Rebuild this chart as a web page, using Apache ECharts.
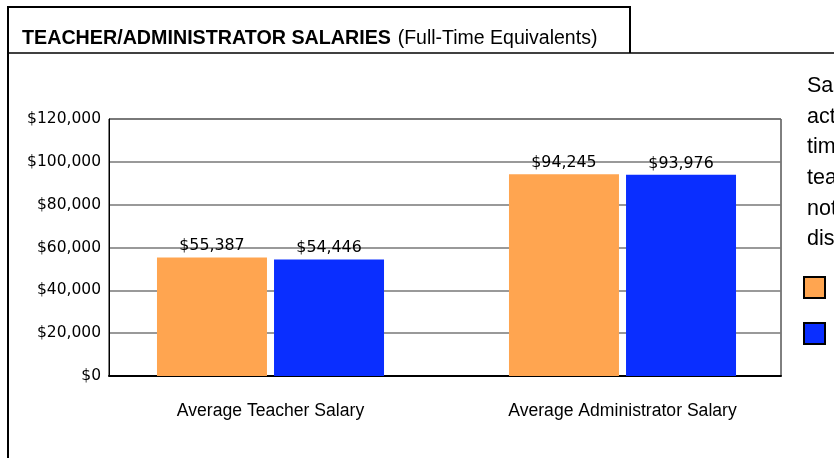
<!DOCTYPE html>
<html><head><meta charset="utf-8">
<script src="https://cdn.jsdelivr.net/npm/echarts@6/dist/echarts.min.js"></script>
<style>html,body{margin:0;padding:0;background:#fff;overflow:hidden}#c{width:834px;height:458px}</style>
</head><body><div id="c"></div>
<script>
const categories = ['Average Teacher Salary', 'Average Administrator Salary'];
const seriesNames = ['District', 'State'];
const districtValues = [55387, 94245];
const stateValues = [54446, 93976];
const yTicks = [0, 20000, 40000, 60000, 80000, 100000, 120000];
const noteLines = ['Salaries are', 'actual full-', 'time', 'teachers', 'not', 'district'];

const fmt = v => '$' + String(v).replace(/\B(?=(\d{3})+(?!\d))/g, ',');
const chart = echarts.init(document.getElementById('c'), null, {renderer: 'canvas'});
const sans = '"Liberation Sans", Arial, sans-serif';
const wide = '"DejaVu Sans", Verdana, sans-serif';

chart.setOption({
  animation: false,
  backgroundColor: '#fff',
  graphic: [
    {type: 'polyline', shape: {points: [[8, 458], [8, 7], [630, 7], [630, 53]]}, style: {stroke: '#000', lineWidth: 2, fill: null}},
    {type: 'line', shape: {x1: 8, y1: 53, x2: 834, y2: 53}, style: {stroke: '#000', lineWidth: 1.5}},
    {type: 'text', left: 22, top: 29, style: {
      text: '{b|TEACHER/ADMINISTRATOR SALARIES}  {n|(Full-Time Equivalents)}',
      rich: {
        b: {fontFamily: sans, fontWeight: 'bold', fontSize: 19.7, fill: '#000'},
        n: {fontFamily: sans, fontSize: 19.5, fill: '#000'}
      }
    }},
    {type: 'text', left: 807, top: 71, style: {
      text: noteLines.join('\n'), fontFamily: sans, fontSize: 21.5, lineHeight: 30.6, fill: '#000'
    }}
  ],
  legend: {
    orient: 'vertical', left: 803, top: 276, padding: 0, itemWidth: 21, itemHeight: 21, itemGap: 23,
    icon: 'rect', data: seriesNames,
    itemStyle: {borderColor: '#000', borderWidth: 2},
    textStyle: {fontFamily: sans, fontSize: 18, color: '#000', padding: [0, 0, 0, 12]}
  },
  grid: [
    {left: 109, top: 119, width: 672, height: 257, show: true, borderColor: '#000', borderWidth: 1, backgroundColor: 'transparent'},
    {left: 94.5, top: 119, width: 704, height: 257}
  ],
  xAxis: [
    {gridIndex: 0, type: 'category', data: categories, axisLabel: {show: false}, axisTick: {show: false},
     axisLine: {lineStyle: {color: '#000', width: 2}}},
    {gridIndex: 1, type: 'category', data: categories, axisLine: {show: false}, axisTick: {show: false},
     axisLabel: {fontFamily: sans, fontSize: 17.6, color: '#000', margin: 26}}
  ],
  yAxis: [
    {gridIndex: 0, type: 'value', min: yTicks[0], max: yTicks[yTicks.length - 1], interval: yTicks[1] - yTicks[0],
     axisLine: {show: true, lineStyle: {color: '#000', width: 1}}, axisTick: {show: false},
     splitLine: {lineStyle: {color: '#777', width: 1.5}},
     axisLabel: {formatter: fmt, fontFamily: wide, fontSize: 15.5, color: '#000', margin: 8}},
    {gridIndex: 1, type: 'value', min: yTicks[0], max: yTicks[yTicks.length - 1], show: false, splitLine: {show: false}}
  ],
  series: [
    {name: seriesNames[0], type: 'bar', xAxisIndex: 1, yAxisIndex: 1, data: districtValues, barWidth: 110, barGap: '6.4%',
     itemStyle: {color: '#FFA550'},
     label: {show: true, position: 'top', distance: 3, formatter: p => fmt(p.value), fontFamily: wide, fontSize: 15.8, color: '#000'}},
    {name: seriesNames[1], type: 'bar', xAxisIndex: 1, yAxisIndex: 1, data: stateValues, barWidth: 110, barGap: '6.4%',
     itemStyle: {color: '#0A2EFF'},
     label: {show: true, position: 'top', distance: 3, formatter: p => fmt(p.value), fontFamily: wide, fontSize: 15.8, color: '#000'}}
  ]
});
</script></body></html>
